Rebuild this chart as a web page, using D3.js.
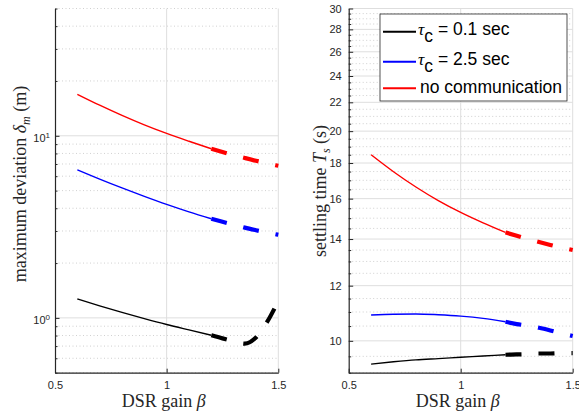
<!DOCTYPE html>
<html>
<head>
<meta charset="utf-8">
<script src="https://cdn.jsdelivr.net/npm/d3@7"></script>
<style>
  body { margin: 0; background: #fff; }
  svg { display: block; font-family: "Liberation Sans", Arial, sans-serif; }
  .axis path, .axis line { stroke: #262626; }
  .axis text { fill: #262626; font-size: 11px; font-family: "Liberation Sans", Arial, sans-serif; }
  .ax-label { font-family: "Liberation Serif", "Times New Roman", serif; font-size: 18px; fill: #262626; }
  .legend text { font-size: 17.5px; fill: #000; }
</style>
</head>
<body>
<svg id="chart" width="579" height="415"></svg>
<script>
// DSR gain values (shared by all series)
const beta = [0.6, 0.7, 0.8, 0.9, 1.0, 1.1, 1.2, 1.25, 1.3, 1.35, 1.4, 1.45, 1.5];
// solid up to this gain, thick dashes after
const splitBeta = 1.2;

// maximum deviation delta_m (m)
const devFast = [1.27, 1.164, 1.072, 0.991, 0.92, 0.859, 0.803, 0.772, 0.745, 0.722, 0.78, 0.95, 1.24];
const devSlow = [6.5, 5.78, 5.17, 4.65, 4.2, 3.82, 3.5, 3.37, 3.25, 3.13, 3.03, 2.94, 2.86];
const devNone = [16.9, 14.72, 12.94, 11.48, 10.3, 9.33, 8.49, 8.15, 7.83, 7.55, 7.29, 7.06, 6.84];

// settling time T_s (s)
const setFast = [9.26, 9.33, 9.39, 9.43, 9.47, 9.51, 9.55, 9.56, 9.57, 9.59, 9.59, 9.6, 9.6];
const setSlow = [10.89, 10.92, 10.93, 10.9, 10.85, 10.77, 10.65, 10.57, 10.51, 10.44, 10.35, 10.25, 10.16];
const setNone = [18.5, 17.49, 16.63, 15.9, 15.29, 14.77, 14.31, 14.15, 14.0, 13.86, 13.73, 13.61, 13.5];

const xTicks = [0.5, 1, 1.5];
const devTicks = [1, 10];
const setTicks = [10, 12, 14, 16, 18, 20, 22, 24, 26, 28, 30];

const seriesColors = ["#000000", "#0000ff", "#ff0000"];
const legendTau = ["0.1", "2.5"];
const legendOther = "no communication";

const svg = d3.select("#chart");
const plotTop = 8.5, plotBottom = 372.7;

/**
 * Draws one log-y panel with its grid, curves and axes
 */
function drawPanel(p) {
  let x = d3.scaleLinear().domain([0.5, 1.5]).range([p.left, p.right]);
  let y = d3.scaleLog().domain(p.yDomain).range([plotBottom, plotTop]);
  let g = svg.append("g");

  // minor dotted grid
  g.selectAll(".minor")
    .data(p.minor)
    .enter()
    .append("line")
    .attr("x1", p.left).attr("x2", p.right)
    .attr("y1", d => y(d)).attr("y2", d => y(d))
    .attr("stroke", "#c4c4c4")
    .attr("stroke-width", 0.8)
    .attr("stroke-dasharray", "1,2.5");

  // major grid
  g.selectAll(".major")
    .data(p.major)
    .enter()
    .append("line")
    .attr("x1", p.left).attr("x2", p.right)
    .attr("y1", d => y(d)).attr("y2", d => y(d))
    .attr("stroke", "#dedede")
    .attr("stroke-width", 1);

  g.selectAll(".vgrid")
    .data(xTicks.slice(1))
    .enter()
    .append("line")
    .attr("x1", d => x(d)).attr("x2", d => x(d))
    .attr("y1", plotTop).attr("y2", plotBottom)
    .attr("stroke", "#dedede")
    .attr("stroke-width", 1);

  // curves: thin solid part then thick dashed part
  let line = d3.line()
    .x(d => x(d[0]))
    .y(d => y(d[1]))
    .curve(d3.curveMonotoneX);

  p.series.forEach((s, i) => {
    let pts = beta.map((b, j) => [b, s[j]]);
    let solid = pts.filter(d => d[0] <= splitBeta);
    let dashed = pts.filter(d => d[0] >= splitBeta);

    g.append("path")
      .datum(solid)
      .attr("d", line)
      .attr("fill", "none")
      .attr("stroke", seriesColors[i])
      .attr("stroke-width", 1.4);

    g.append("path")
      .datum(dashed)
      .attr("d", line)
      .attr("fill", "none")
      .attr("stroke", seriesColors[i])
      .attr("stroke-width", 4.2)
      .attr("stroke-dasharray", "16,17");
  });

  // x axis (ticks point inward)
  g.append("g")
    .attr("class", "axis")
    .attr("transform", "translate(0," + plotBottom + ")")
    .call(d3.axisBottom(x)
      .tickValues(xTicks)
      .tickFormat(d3.format("~g"))
      .tickSizeInner(-4)
      .tickSizeOuter(0)
      .tickPadding(9));

  // y minor ticks
  g.append("g")
    .attr("class", "axis")
    .attr("transform", "translate(" + p.left + ",0)")
    .call(d3.axisLeft(y)
      .tickValues(p.minor)
      .tickFormat("")
      .tickSizeInner(-2.5)
      .tickSizeOuter(0))
    .select(".domain").remove();

  // y major ticks
  let yAxis = g.append("g")
    .attr("class", "axis")
    .attr("transform", "translate(" + p.left + ",0)")
    .call(d3.axisLeft(y)
      .tickValues(p.major)
      .tickFormat(p.fmt)
      .tickSizeInner(-4.5)
      .tickSizeOuter(0)
      .tickPadding(p.pad));

  if (p.superscript) {
    yAxis.selectAll(".tick text")
      .attr("dy", "0.55em")
      .append("tspan")
      .attr("dy", "-0.6em")
      .attr("font-size", "8px")
      .text(d => Math.round(Math.log10(d)));
  }

  g.selectAll(".axis .domain").attr("stroke-width", 1.2);

  // x label
  let xl = g.append("text")
    .attr("class", "ax-label")
    .attr("x", (p.left + p.right) / 2 - 3)
    .attr("y", 407)
    .attr("font-size", "17px")
    .attr("text-anchor", "middle");
  xl.append("tspan").text("DSR gain ");
  xl.append("tspan").attr("font-style", "italic").text("β");

  // y label
  let yl = g.append("text")
    .attr("class", "ax-label")
    .attr("transform", "translate(" + p.labelX + "," + p.labelY + ") rotate(-90)")
    .attr("text-anchor", "middle");
  yl.append("tspan").text(p.labelStart);
  yl.append("tspan").attr("font-style", "italic").text(p.labelSym);
  yl.append("tspan").attr("font-style", "italic").attr("font-size", "12px").attr("dy", 4).text(p.labelSub);
  yl.append("tspan").attr("dy", -4).text(p.labelEnd);
}

// left panel: maximum deviation
let devScale = d3.scaleLog().domain([0.5, 50]);
drawPanel({
  left: 55, right: 278.3,
  yDomain: [0.5, 50],
  series: [devFast, devSlow, devNone],
  major: devTicks,
  minor: devScale.ticks().filter(d => devTicks.indexOf(d) < 0),
  fmt: () => "10",
  superscript: true,
  pad: 5,
  labelX: 26, labelY: 184,
  labelStart: "maximum deviation ", labelSym: "δ", labelSub: "m", labelEnd: " (m)"
});

// right panel: settling time
drawPanel({
  left: 348.7, right: 572.7,
  yDomain: [9, 30],
  series: [setFast, setSlow, setNone],
  major: setTicks,
  minor: d3.range(9, 30.01, 0.5).filter(d => setTicks.indexOf(d) < 0),
  fmt: d3.format("d"),
  superscript: false,
  pad: 7,
  labelX: 326, labelY: 191,
  labelStart: "settling time ", labelSym: "T", labelSub: "s", labelEnd: " (s)"
});

// legend
let legend = svg.append("g").attr("class", "legend");
legend.append("rect")
  .attr("x", 380).attr("y", 14)
  .attr("width", 187).attr("height", 87)
  .attr("fill", "#fff")
  .attr("stroke", "#262626")
  .attr("stroke-width", 0.8);

let rowLine = [31.7, 61.7, 88.3];
let rowText = [35, 65, 93.3];

seriesColors.forEach((c, i) => {
  legend.append("line")
    .attr("x1", 383).attr("x2", 416)
    .attr("y1", rowLine[i]).attr("y2", rowLine[i])
    .attr("stroke", c)
    .attr("stroke-width", 2);

  let t = legend.append("text")
    .attr("x", i < 2 ? 418 : 420)
    .attr("y", rowText[i]);
  if (i < 2) {
    t.append("tspan").attr("font-style", "italic").attr("font-family", "Liberation Serif, serif").text("τ");
    t.append("tspan").attr("dy", 7).text("c");
    t.append("tspan").attr("dy", -7).text(" = " + legendTau[i] + " sec");
  } else {
    t.text(legendOther);
  }
});
</script>
</body>
</html>
